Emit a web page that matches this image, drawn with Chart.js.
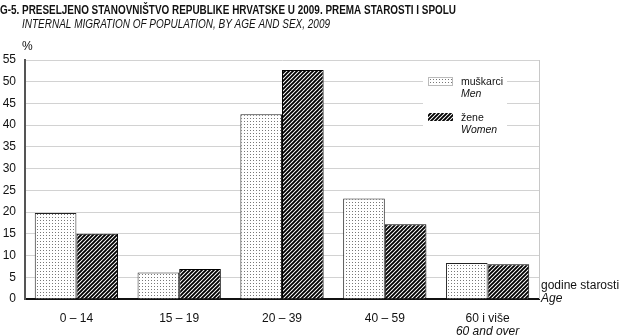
<!DOCTYPE html>
<html>
<head>
<meta charset="utf-8">
<script src="https://cdn.jsdelivr.net/npm/chart.js@4"></script>
<style>
  html, body { margin: 0; padding: 0; background: #fff; }
  canvas { display: block; }
</style>
</head>
<body>
<canvas id="chart" width="625" height="336"></canvas>
<script>
// Age groups and shares (%) of internal migrants by sex
const ageGroups = ['0 – 14', '15 – 19', '20 – 39', '40 – 59', '60 i više'];
const ageGroupsEn = ['', '', '', '', '60 and over'];
const men = [19.8, 6.1, 42.5, 23.1, 8.3];
const women = [15.0, 6.9, 52.7, 17.2, 8.0];
const yTicks = [0, 5, 10, 15, 20, 25, 30, 35, 40, 45, 50, 55];

const FONT = '"Liberation Sans", Arial, sans-serif';

// fill patterns: dotted for men, hatched for women
function dotPattern(ctx) {
    const c = document.createElement('canvas');
    c.width = 3; c.height = 3;
    const g = c.getContext('2d');
    g.fillStyle = '#fff';
    g.fillRect(0, 0, 3, 3);
    g.fillStyle = '#777';
    g.fillRect(1, 1, 1, 1);
    return ctx.createPattern(c, 'repeat');
}

function hatchPattern(ctx) {
    const s = 4;
    const c = document.createElement('canvas');
    c.width = s; c.height = s;
    const g = c.getContext('2d');
    g.fillStyle = '#fff';
    g.fillRect(0, 0, s, s);
    g.strokeStyle = '#000';
    g.lineWidth = 1.9;
    g.beginPath();
    g.moveTo(-1, s + 1); g.lineTo(s + 1, -1);
    g.moveTo(-1, 1); g.lineTo(1, -1);
    g.moveTo(s - 1, s + 1); g.lineTo(s + 1, s - 1);
    g.stroke();
    return ctx.createPattern(c, 'repeat');
}

const canvas = document.getElementById('chart');
const ctx = canvas.getContext('2d');
const menFill = dotPattern(ctx);
const womenFill = hatchPattern(ctx);

const textPlugin = {
    id: 'texts',
    afterDraw(chart) {
        const c = chart.ctx;
        const area = chart.chartArea;
        const x = chart.scales.x;
        c.save();

        // plot frame on the right
        c.strokeStyle = '#c8c8c8';
        c.lineWidth = 1;
        c.beginPath();
        c.moveTo(area.right + 0.5, area.top);
        c.lineTo(area.right + 0.5, area.bottom);
        c.stroke();

        // titles
        c.fillStyle = '#111';
        c.textBaseline = 'alphabetic';
        c.textAlign = 'left';
        c.font = 'bold 13px ' + FONT;
        c.fillText('G-5. PRESELJENO STANOVNIŠTVO REPUBLIKE HRVATSKE U 2009. PREMA STAROSTI I SPOLU', 0, 14, 456);
        c.font = 'italic 12.5px ' + FONT;
        c.fillText('INTERNAL MIGRATION OF POPULATION, BY AGE AND SEX, 2009', 22, 28, 308);
        c.font = '12px ' + FONT;
        c.fillText('%', 22, 50);

        // category labels
        c.textAlign = 'center';
        ageGroups.forEach((lab, i) => {
            const cx = x.getPixelForValue(i);
            c.font = '12px ' + FONT;
            c.fillText(lab, cx, 322);
            if (ageGroupsEn[i]) {
                c.font = 'italic 12px ' + FONT;
                c.fillText(ageGroupsEn[i], cx, 335);
            }
        });

        // axis caption
        c.textAlign = 'left';
        c.font = '12px ' + FONT;
        c.fillText('godine starosti', 541, 289);
        c.font = 'italic 12px ' + FONT;
        c.fillText('Age', 541, 302);

        // legend
        c.fillStyle = '#fff';
        c.fillRect(423, 70, 84, 68);
        c.fillStyle = menFill;
        c.fillRect(428, 77, 25, 9);
        c.strokeStyle = '#bbb';
        c.lineWidth = 1;
        c.strokeRect(428.5, 77.5, 24, 8);
        c.fillStyle = womenFill;
        c.fillRect(428, 113, 25, 8);

        c.fillStyle = '#111';
        c.font = '10.5px ' + FONT;
        c.fillText('muškarci', 461, 85);
        c.fillText('žene', 461, 121);
        c.font = 'italic 10.5px ' + FONT;
        c.fillText('Men', 461, 97);
        c.fillText('Women', 461, 133);
        c.restore();
    }
};

new Chart(ctx, {
    type: 'bar',
    data: {
        labels: ageGroups,
        datasets: [{
            label: 'muškarci',
            data: men,
            backgroundColor: menFill,
            borderColor: '#222',
            borderWidth: 1
        }, {
            label: 'žene',
            data: women,
            backgroundColor: womenFill,
            borderColor: '#000',
            borderWidth: 1
        }]
    },
    options: {
        responsive: false,
        animation: false,
        layout: { padding: { top: 60, bottom: 37, left: 0, right: 86 } },
        datasets: {
            bar: { barPercentage: 1, categoryPercentage: 0.81 }
        },
        plugins: {
            legend: { display: false },
            tooltip: { enabled: false }
        },
        scales: {
            x: {
                grid: { display: false },
                ticks: { display: false },
                border: { color: '#111', width: 2 },
                afterFit(scale) { scale.height = 0; }
            },
            y: {
                min: 0,
                max: 55,
                afterBuildTicks(scale) { scale.ticks = yTicks.map(v => ({ value: v })); },
                grid: { color: '#d2d2d2', lineWidth: 1, drawTicks: false },
                border: { color: '#555', width: 2 },
                ticks: {
                    padding: 9,
                    color: '#111',
                    font: { family: FONT, size: 12 }
                },
                afterFit(scale) { scale.width = 25; }
            }
        }
    },
    plugins: [textPlugin]
});
</script>
</body>
</html>
